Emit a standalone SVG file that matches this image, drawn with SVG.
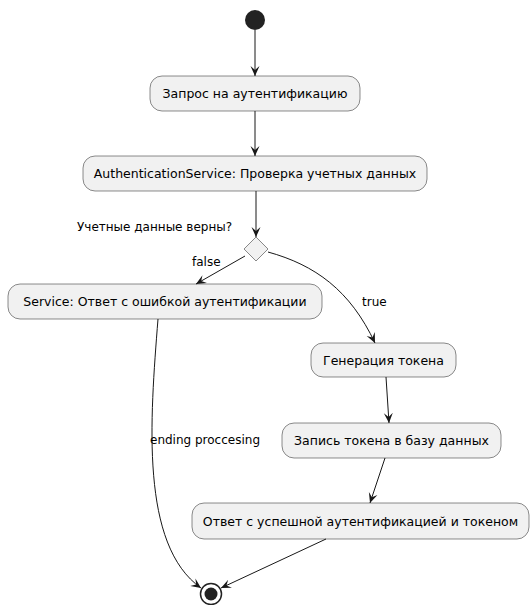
<svg xmlns="http://www.w3.org/2000/svg" width="531" height="605" viewBox="0 0 531 605">
<style>
.n{fill:#F1F1F1;stroke:#181818;stroke-width:0.5}
.t{font-family:"DejaVu Sans",sans-serif;font-size:12.5px;fill:#000;text-anchor:middle}
.l{font-family:"DejaVu Sans",sans-serif;font-size:12px;fill:#000}
.c{fill:none;stroke:#181818;stroke-width:1}
</style>
<defs>
<marker id="a" markerUnits="userSpaceOnUse" markerWidth="11" markerHeight="10" refX="10" refY="5" orient="auto" viewBox="0 0 11 10">
<path d="M0,0.5 L10,5 L0,9.5 L4,5 Z" fill="#181818"/>
</marker>
</defs>
<g id="start"><circle cx="255" cy="20" r="10" fill="#222"/></g>
<g id="n1"><rect class="n" x="150" y="76" width="210" height="35" rx="12"/><text class="t" x="255" y="98">Запрос на аутентификацию</text></g>
<g id="n2"><rect class="n" x="83" y="156" width="344" height="35" rx="12"/><text class="t" x="255" y="178">AuthenticationService: Проверка учетных данных</text></g>
<g id="d"><path class="n" d="M256,237 L268,249 L256,261 L244,249 Z"/><text class="l" x="77" y="231">Учетные данные верны?</text></g>
<g id="n3"><rect class="n" x="8" y="284" width="314" height="35" rx="12"/><text class="t" x="165" y="306">Service: Ответ с ошибкой аутентификации</text></g>
<g id="n4"><rect class="n" x="311" y="343" width="145" height="34" rx="12"/><text class="t" x="383.5" y="365">Генерация токена</text></g>
<g id="n5"><rect class="n" x="282" y="423" width="219" height="35" rx="12"/><text class="t" x="391.5" y="445">Запись токена в базу данных</text></g>
<g id="n6"><rect class="n" x="192" y="503" width="337" height="36" rx="12"/><text class="t" x="360.5" y="526">Ответ с успешной аутентификацией и токеном</text></g>
<g id="end"><circle cx="211" cy="594" r="10.5" fill="none" stroke="#222" stroke-width="1.5"/><circle cx="211" cy="594" r="6.5" fill="#222"/></g>
<g id="connectors">
<line class="c" x1="255" y1="30" x2="255" y2="76" marker-end="url(#a)"/>
<line class="c" x1="255" y1="111" x2="255" y2="156" marker-end="url(#a)"/>
<line class="c" x1="256" y1="191" x2="256" y2="237" marker-end="url(#a)"/>
<line class="c" x1="245" y1="256" x2="196" y2="284" marker-end="url(#a)"/>
<path class="c" d="M268,252 C315,265 350,290 375,343" marker-end="url(#a)"/>
<line class="c" x1="386" y1="377" x2="389" y2="423" marker-end="url(#a)"/>
<line class="c" x1="385" y1="458" x2="370" y2="503" marker-end="url(#a)"/>
<line class="c" x1="326" y1="539" x2="221" y2="588" marker-end="url(#a)"/>
<path class="c" d="M158,319 C150,420 140,545 201,588" marker-end="url(#a)"/>
<text class="l" x="192" y="266">false</text>
<text class="l" x="362" y="306">true</text>
<text class="l" x="150" y="444">ending proccesing</text>
</g>
</svg>
